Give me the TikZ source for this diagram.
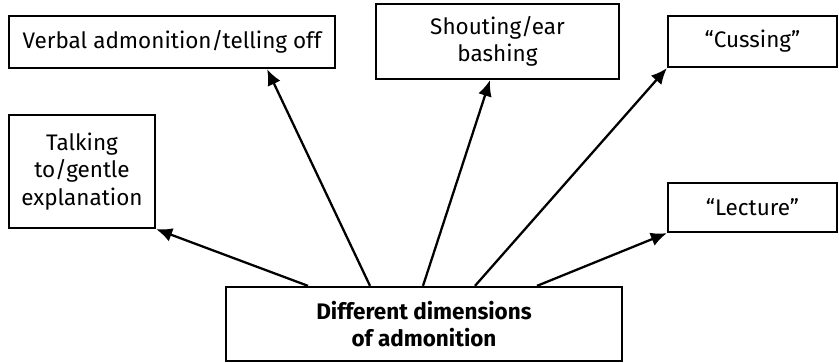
\documentclass[tikz,border=0pt]{standalone}
\usepackage{fontspec}
\setmainfont{Fira Sans}
\usepackage{tikz}
\usetikzlibrary{arrows.meta}

\tikzset{
  dimbox/.style={draw=black,line width=1.3pt,align=center,inner sep=2pt,font=\fontsize{12.8}{15.5}\selectfont},
  dimarrow/.style={line width=1.3pt,-{Latex[length=3.2mm,width=2.8mm]}}
}

\begin{document}
\begin{tikzpicture}
\useasboundingbox (0,0) rectangle (16.78,7.24);

\node[dimbox,minimum width=6.52cm,minimum height=1.04cm] (verbal) at (3.44,6.4) {Verbal admonition/telling off};
\node[dimbox,minimum width=2.92cm,minimum height=2.26cm] (talking) at (1.64,3.81) {Talking\\to/gentle\\explanation};
\node[dimbox,minimum width=4.86cm,minimum height=1.5cm] (shouting) at (9.95,6.41) {Shouting/ear\\bashing};
\node[dimbox,minimum width=3.38cm,minimum height=1.02cm] (cussing) at (15.05,6.41) {``Cussing''};
\node[dimbox,minimum width=3.38cm,minimum height=0.98cm] (lecture) at (15.05,3.09) {``Lecture''};
\node[dimbox,minimum width=7.92cm,minimum height=1.48cm,font=\fontsize{12.8}{15.5}\selectfont\bfseries] (main) at (8.48,0.76) {Different dimensions\\of admonition};

\draw[dimarrow] ([xshift=-2.32cm]main.north) -- (talking.south east);
\draw[dimarrow] ([xshift=-1.08cm]main.north) -- ([xshift=-1.38cm]verbal.south east);
\draw[dimarrow] ([xshift=-0.02cm]main.north) -- ([xshift=-0.15cm]shouting.south);
\draw[dimarrow] ([xshift=1.02cm]main.north) -- (cussing.south west);
\draw[dimarrow] ([xshift=2.26cm]main.north) -- (lecture.south west);
\end{tikzpicture}
\end{document}
